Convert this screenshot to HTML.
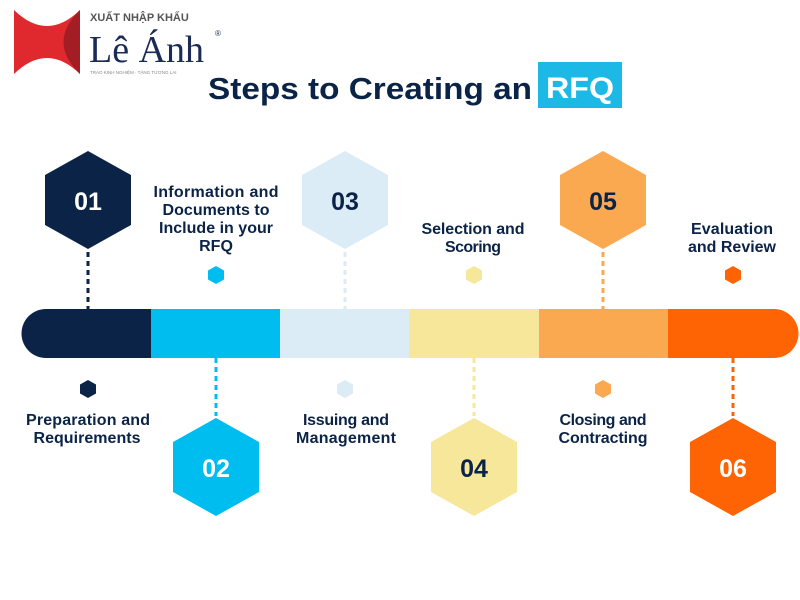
<!DOCTYPE html>
<html><head><meta charset="utf-8"><style>
body{margin:0;background:#fff;}
svg{display:block}
text{font-family:"Liberation Sans",sans-serif;font-weight:bold;}
</style></head><body>
<svg width="800" height="600" viewBox="0 0 800 600" xmlns="http://www.w3.org/2000/svg">
<defs>
<polygon id="hx" points="0,-49 43,-25 43,25 0,49 -43,25 -43,-25"/>
<polygon id="sh" points="0,-9 8,-4.5 8,4.5 0,9 -8,4.5 -8,-4.5"/>
</defs>
<!-- logo -->
<path d="M14,10 Q47,42 80,10 L80,74 Q47,42 14,74 Z" fill="#e0282f"/>
<path d="M80,10 L80,74 Q47,42 80,10Z" fill="#a31d24"/>
<text x="90" y="21" font-size="11" fill="#555">XUẤT NHẬP KHẨU</text>
<text x="89" y="62" font-size="38" fill="#1a2b55" style="font-family:'Liberation Serif',serif;font-weight:normal">Lê Ánh</text>
<text x="215" y="36" font-size="8" fill="#1a2b55" style="font-weight:normal">®</text>
<text x="90" y="74" font-size="4.5" fill="#888" style="font-weight:normal">TRAO KINH NGHIỆM · TẶNG TƯƠNG LAI</text>
<!-- title -->
<text x="208" y="99" font-size="31" fill="#0b2347" textLength="324" lengthAdjust="spacingAndGlyphs">Steps to Creating an</text>
<rect x="538" y="62" width="84" height="46" fill="#1cb9e6"/>
<text x="580" y="98" font-size="30" fill="#fff" text-anchor="middle" textLength="68" lengthAdjust="spacingAndGlyphs">RFQ</text>
<!-- dotted lines -->
<g stroke-width="3" stroke-dasharray="5,4">
<line x1="88" y1="252" x2="88" y2="309" stroke="#0b2347"/>
<line x1="345" y1="252" x2="345" y2="309" stroke="#dcecf7"/>
<line x1="603" y1="252" x2="603" y2="309" stroke="#fba950"/>
<line x1="216" y1="358" x2="216" y2="416" stroke="#00bdf0"/>
<line x1="474" y1="358" x2="474" y2="416" stroke="#f7e79a"/>
<line x1="733" y1="358" x2="733" y2="416" stroke="#ff6404"/>
</g>
<!-- bar -->
<path d="M46,309 L151,309 L151,358 L46,358 A24.5,24.5 0 0 1 46,309Z" fill="#0b2347"/>
<rect x="151" y="309" width="129" height="49" fill="#00bdf0"/>
<rect x="280" y="309" width="129" height="49" fill="#dcecf7"/>
<rect x="409" y="309" width="130" height="49" fill="#f7e79a"/>
<rect x="539" y="309" width="129" height="49" fill="#fba950"/>
<path d="M668,309 L774,309 A24.5,24.5 0 0 1 774,358 L668,358Z" fill="#ff6404"/>
<!-- big hexes -->
<use href="#hx" x="88" y="200" fill="#0b2347"/>
<use href="#hx" x="345" y="200" fill="#dcecf7"/>
<use href="#hx" x="603" y="200" fill="#fba950"/>
<use href="#hx" x="216" y="467" fill="#00bdf0"/>
<use href="#hx" x="474" y="467" fill="#f7e79a"/>
<use href="#hx" x="733" y="467" fill="#ff6404"/>
<g font-size="25" text-anchor="middle">
<text x="88" y="210" fill="#fff">01</text>
<text x="345" y="210" fill="#0b2347">03</text>
<text x="603" y="210" fill="#0b2347">05</text>
<text x="216" y="477" fill="#fff">02</text>
<text x="474" y="477" fill="#0b2347">04</text>
<text x="733" y="477" fill="#fff">06</text>
</g>
<!-- small hexes -->
<use href="#sh" x="216" y="275" fill="#00bdf0"/>
<use href="#sh" x="474" y="275" fill="#f7e79a"/>
<use href="#sh" x="733" y="275" fill="#ff6404"/>
<use href="#sh" x="88" y="389" fill="#0b2347"/>
<use href="#sh" x="345" y="389" fill="#dcecf7"/>
<use href="#sh" x="603" y="389" fill="#fba950"/>
<!-- labels -->
<g font-size="16" fill="#0b2347" text-anchor="middle" lengthAdjust="spacingAndGlyphs">
<text x="216" y="197" textLength="125">Information and</text>
<text x="216" y="215" textLength="107">Documents to</text>
<text x="216" y="233" textLength="114">Include in your</text>
<text x="216" y="251">RFQ</text>
<text x="473" y="234" textLength="103">Selection and</text>
<text x="473" y="252" textLength="56">Scoring</text>
<text x="732" y="234" textLength="82">Evaluation</text>
<text x="732" y="252" textLength="88">and Review</text>
<text x="88" y="425" textLength="124">Preparation and</text>
<text x="87" y="443" textLength="107">Requirements</text>
<text x="346" y="425" textLength="86">Issuing and</text>
<text x="346" y="443" textLength="100">Management</text>
<text x="603" y="425" textLength="87">Closing and</text>
<text x="603" y="443" textLength="89">Contracting</text>
</g>
</svg>
</body></html>
